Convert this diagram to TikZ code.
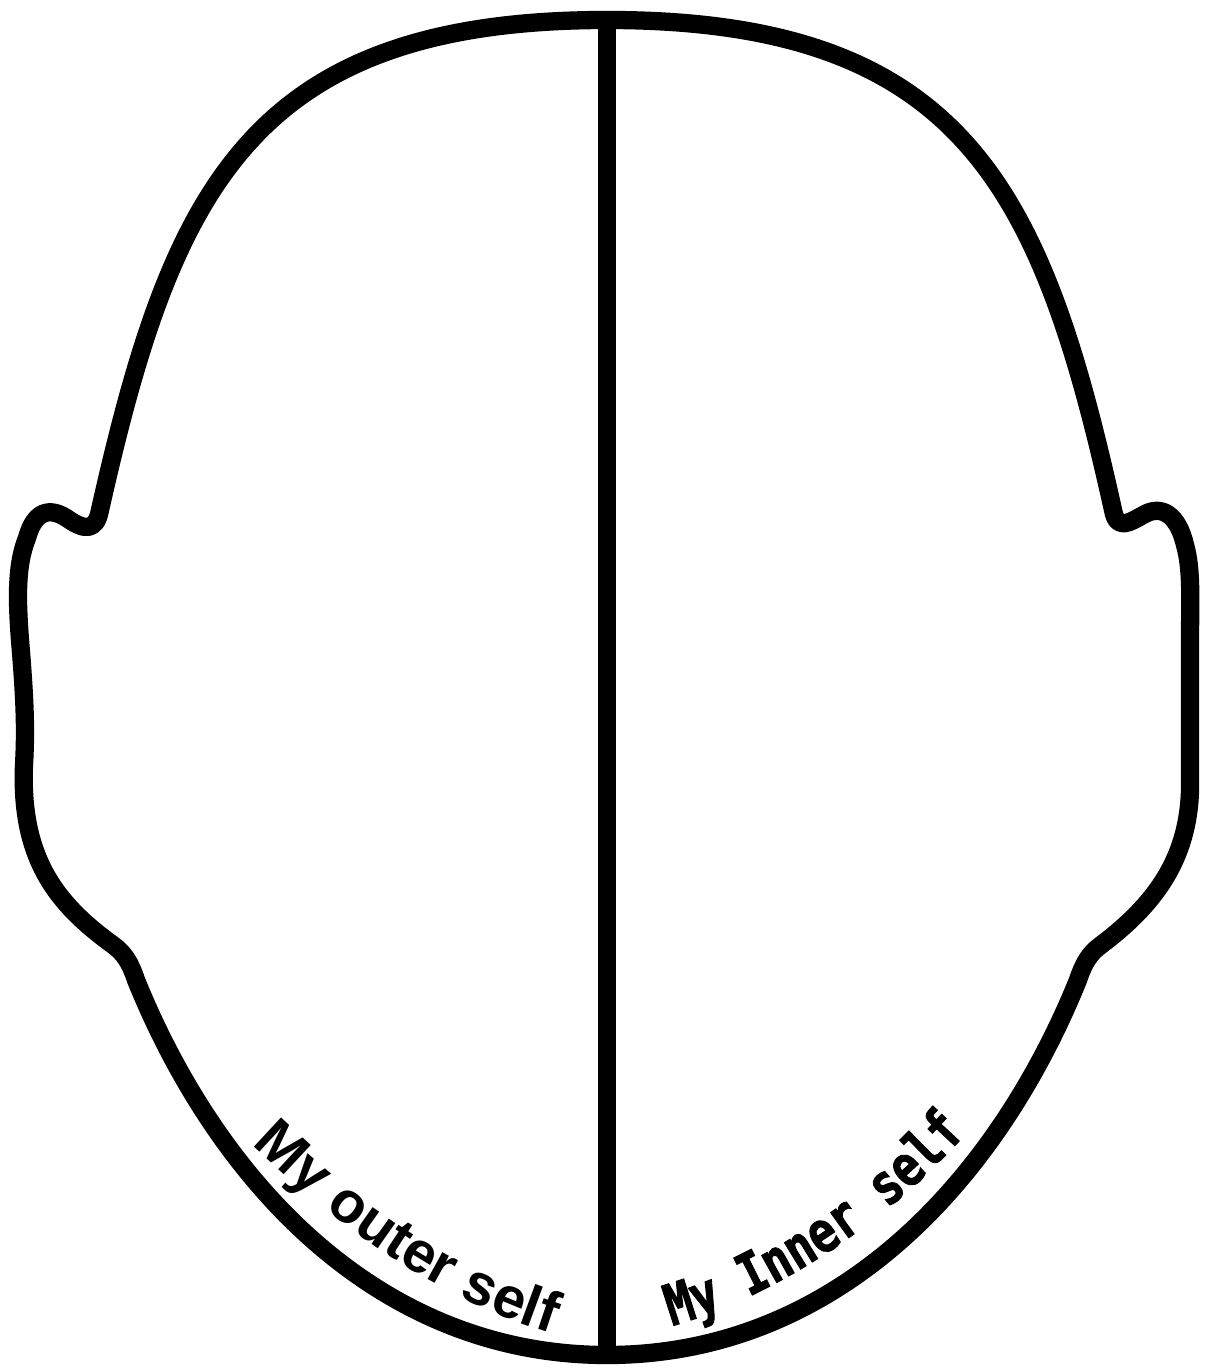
\documentclass[tikz,border=0pt]{standalone}
\usepackage{fontspec}
\newfontfamily\outerfont{Liberation Sans}
\newfontfamily\innerfont{DejaVu Sans Mono}[FakeStretch=0.8, FakeBold=1.5]
\usetikzlibrary{decorations.text}

\begin{document}
\begin{tikzpicture}[x=0.01cm, y=-0.01cm,
  outline/.style={draw, line width=5.2pt, line join=round},
  divider/.style={draw, line width=5.2pt},
  curvetext/.style={decorate, decoration={text along path, text align=left}},
]
\useasboundingbox (0,0) rectangle (1208,1371);

% head outline
\draw[outline] (607,20)
  .. controls (250,20) and (172,190) .. (100,510)
  .. controls (96,532) and (84,530) .. (68,519)
  .. controls (55,510) and (36,505) .. (27,538)
  .. controls (16,565) and (17,600) .. (20,640)
  .. controls (25,700) and (26,730) .. (24,765)
  .. controls (20,860) and (58,905) .. (113,945)
  .. controls (124,953) and (130,962) .. (136,980)
  .. controls (217,1180) and (377,1355) .. (607,1355)
  .. controls (837,1355) and (997,1180) .. (1078,980)
  .. controls (1084,962) and (1090,953) .. (1101,945)
  .. controls (1154,905) and (1188,860) .. (1190,790)
  -- (1190,640)
  .. controls (1190,600) and (1192,570) .. (1185,545)
  .. controls (1178,515) and (1162,505) .. (1145,514)
  .. controls (1130,522) and (1117,532) .. (1113,510)
  .. controls (1042,190) and (964,20) .. (607,20) -- cycle;

% middle line
\coordinate (crown) at (607,20);
\coordinate (chin) at (607,1355);
\draw[divider] (crown) -- (chin);

% labels along the chin
\path[curvetext, decoration={text={|\outerfont\bfseries\fontsize{16.5}{16.5}\selectfont|My outer self}}]
  (252,1144) .. controls (322,1211) and (422,1296) .. (565,1338);
\path[curvetext, decoration={text={|\innerfont\bfseries\fontsize{16.2}{16.2}\selectfont|My Inner self}}]
  (672,1326) .. controls (770,1298) and (880,1228) .. (962,1138);
\end{tikzpicture}
\end{document}
